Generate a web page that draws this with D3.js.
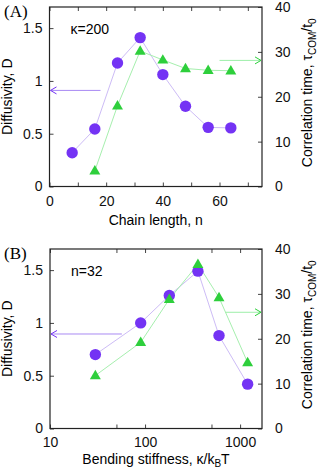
<!DOCTYPE html>
<html>
<head>
<meta charset="utf-8" />
<title>diffusivity</title>
<style>
* { padding: 0; margin: 0; }
body { background: #fff; }
#graph { width: 322px; height: 472px; }
</style>
</head>
<body>
<div id="graph"></div>
<script src="https://cdn.jsdelivr.net/npm/d3@7"></script>
<script>
    // panel A : kappa = 200
    var chainLength = [8, 16, 24, 32, 40, 48, 56, 64]
    var diffA = [0.32, 0.545, 1.17, 1.41, 1.06, 0.76, 0.56, 0.555]
    var chainLengthTau = [16, 24, 32, 40, 48, 56, 64]
    var tauA = [3.5, 18.0, 30.2, 28.2, 26.3, 25.9, 25.8]
    var ticksA = [0, 20, 40, 60]
    var minorA = [10, 30, 50, 70]

    // panel B : n = 32
    var stiffness = [30, 90, 180, 360, 600, 1200]
    var diffB = [0.70, 1.00, 1.26, 1.49, 0.88, 0.42]
    var tauB = [11.8, 19.2, 28.8, 36.6, 29.2, 14.7]
    var ticksB = [10, 100, 1000]
    var minorB = [50, 500]

    var diffTicks = [0, 0.5, 1, 1.5]
    var tauTicks = [0, 10, 20, 30, 40]

    var purple = "#7433f4", purpleLine = "#cdbcf6"
    var green = "#2ecf3c", greenLine = "#a6efae"
    var sans = "'Liberation Sans', Arial, sans-serif"
    var fs = 14

    var svg = d3.select("#graph").append("svg").attr("width", 322).attr("height", 472)
        .style("font-family", sans).style("font-size", fs + "px")

    drawPanel({
        top: 7, label: "(A)", note: "κ=200", pad: 10, titleOff: 38.5,
        x: d3.scaleLinear().domain([0, 75]).range([49.5, 262]),
        ticks: ticksA, minor: minorA, fmt: d3.format("d"),
        xD: chainLength, D: diffA, xT: chainLengthTau, T: tauA,
        arrowD: 0.91, arrowDfrom: 18, arrowT: 28.1, arrowTfrom: 60,
        xtitle: [["Chain length, n", 0]]
    })
    drawPanel({
        top: 249, label: "(B)", note: "n=32", pad: 8.5, titleOff: 35,
        x: d3.scaleLog().domain([10, 1700]).range([50, 262]),
        ticks: ticksB, minor: minorB, fmt: d3.format("d"),
        xD: stiffness, D: diffB, xT: stiffness, T: tauB,
        arrowD: 0.895, arrowDfrom: 57, arrowT: 25.9, arrowTfrom: 700,
        xtitle: [["Bending stiffness, κ/k", 0], ["B", 1], ["T", 2]]
    })

    function drawPanel(p) {
        var h = 179.5
        var x = p.x
        var y = d3.scaleLinear().domain([0, 1.7]).range([p.top + h, p.top])
        var y2 = d3.scaleLinear().domain([0, 40]).range([p.top + h, p.top])
        var x0 = x.range()[0], x1 = x.range()[1]
        var g = svg.append("g")

        // axes, gnuplot style: ticks inside
        g.append("g").attr("transform", "translate(0," + (p.top + h) + ")")
            .call(d3.axisBottom(x).tickValues(p.ticks.concat(p.minor)).tickSizeInner(-4).tickSizeOuter(0).tickPadding(p.pad)
                .tickFormat(function(d) { return p.ticks.indexOf(d) >= 0 ? p.fmt(d) : "" }))
        g.append("g").attr("transform", "translate(0," + p.top + ")")
            .call(d3.axisTop(x).tickValues(p.ticks.concat(p.minor)).tickSizeInner(-4).tickSizeOuter(0).tickFormat(""))
        g.append("g").attr("transform", "translate(" + x0 + ",0)")
            .call(d3.axisLeft(y).tickValues(diffTicks).tickSizeInner(-4).tickSizeOuter(0).tickPadding(7).tickFormat(d3.format("")))
        g.append("g").attr("transform", "translate(" + x1 + ",0)")
            .call(d3.axisRight(y2).tickValues(tauTicks).tickSizeInner(-4).tickSizeOuter(0).tickPadding(13))
        g.selectAll(".domain").remove()
        g.selectAll(".tick line").attr("stroke", "#444")
        g.selectAll("g.tick text").attr("font-size", fs).attr("font-family", sans).attr("fill", "#111")
        g.append("rect").attr("x", x0).attr("y", p.top).attr("width", x1 - x0).attr("height", h)
            .attr("fill", "none").attr("stroke", "#222").attr("stroke-width", 1.2)

        // lines
        var line = d3.line()
        g.append("path").attr("d", line(p.xD.map(function(v, i) { return [x(v), y(p.D[i])] })))
            .attr("fill", "none").attr("stroke", purpleLine).attr("stroke-width", 1)
        g.append("path").attr("d", line(p.xT.map(function(v, i) { return [x(v), y2(p.T[i])] })))
            .attr("fill", "none").attr("stroke", greenLine).attr("stroke-width", 1)

        // markers
        g.selectAll("circle.d").data(p.xD).enter().append("circle")
            .attr("cx", function(d) { return x(d) })
            .attr("cy", function(d, i) { return y(p.D[i]) })
            .attr("r", 5.7).attr("fill", purple)
        var tri = d3.symbol().type(d3.symbolTriangle).size(52)
        g.selectAll("path.t").data(p.xT).enter().append("path")
            .attr("d", tri)
            .attr("transform", function(d, i) { return "translate(" + x(d) + "," + (y2(p.T[i]) + 0.5) + ")" })
            .attr("fill", green)

        // arrows pointing to the axis used
        arrow(g, x(p.arrowDfrom), x0 + 1, y(p.arrowD), "#a98af3", purple)
        arrow(g, x(p.arrowTfrom), x1 - 1, y2(p.arrowT), "#9cefa8", green)

        // labels
        g.append("text").attr("x", x0 + 21).attr("y", p.top + 27).text(p.note)
        g.append("text").attr("x", 4).attr("y", p.top + 10)
            .style("font-family", "'Liberation Serif', 'Times New Roman', serif").style("font-size", "17px").text(p.label)

        var cy = p.top + h / 2
        g.append("text").attr("transform", "translate(12," + cy + ") rotate(-90)")
            .attr("text-anchor", "middle").text("Diffusivity, D")

        var rt = g.append("text").attr("transform", "translate(312," + (cy - 4) + ") rotate(-90)")
            .attr("text-anchor", "middle")
        rt.append("tspan").text("Correlation time, τ")
        rt.append("tspan").attr("font-size", 10).attr("dy", 4).text("COM")
        rt.append("tspan").attr("dy", -4).text("/t")
        rt.append("tspan").attr("font-size", 10).attr("dy", 4).text("0")

        var xt = g.append("text").attr("x", (x0 + x1) / 2).attr("y", p.top + h + p.titleOff)
            .attr("text-anchor", "middle")
        p.xtitle.forEach(function(s) {
            var t = xt.append("tspan").text(s[0])
            if (s[1] === 1) t.attr("font-size", 10).attr("dy", 3.5)
            if (s[1] === 2) t.attr("dy", -3.5)
        })
    }

    function arrow(g, xa, xb, yy, col, headCol) {
        var dir = xb < xa ? 1 : -1
        g.append("line").attr("x1", xa).attr("x2", xb).attr("y1", yy).attr("y2", yy)
            .attr("stroke", col).attr("stroke-width", 1)
        g.append("path")
            .attr("d", "M" + (xb + dir * 6) + "," + (yy - 3.5) + "L" + xb + "," + yy + "L" + (xb + dir * 6) + "," + (yy + 3.5))
            .attr("fill", "none").attr("stroke", headCol).attr("stroke-width", 1)
    }
</script>
</body>
</html>
